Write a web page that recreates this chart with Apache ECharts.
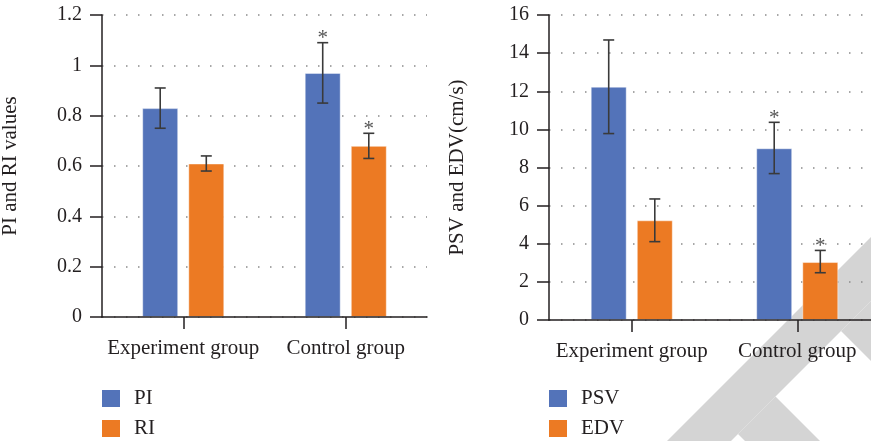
<!DOCTYPE html>
<html>
<head>
<meta charset="utf-8">
<script src="https://cdn.jsdelivr.net/npm/echarts@6/dist/echarts.min.js"></script>
<style>
html,body{margin:0;padding:0;background:#fff;}
#chart{width:871px;height:441px;}
</style>
</head>
<body>
<div id="chart"></div>
<script>
// ---- data ----
const categories = ['Experiment group', 'Control group'];
const piValues = [0.83, 0.97];
const piErrors = [[0.75, 0.91], [0.85, 1.09]];
const piStars = [0, 1];
const riValues = [0.61, 0.68];
const riErrors = [[0.58, 0.64], [0.63, 0.73]];
const riStars = [0, 1];
const psvValues = [12.24, 9.01];
const psvErrors = [[9.78, 14.69], [7.68, 10.37]];
const psvStars = [0, 1];
const edvValues = [5.23, 3.04];
const edvErrors = [[4.11, 6.35], [2.48, 3.65]];
const edvStars = [0, 1];
const leftAxisTitle = 'PI and RI values';
const rightAxisTitle = 'PSV and EDV(cm/s)';
const leftAxis = {min: 0, max: 1.2, interval: 0.2};
const rightAxis = {min: 0, max: 16, interval: 2};

// ---- styles ----
const FONT = "'Liberation Serif', 'DejaVu Serif', serif";
const INK = '#231f20';
const BLUE = '#5373b9';
const ORANGE = '#ec7a23';
const BAR_W = 36;
const BAR_GAP = 0.28;
const OFFSET = BAR_W * (1 + BAR_GAP) / 2;

function errData(errs, stars) {
  return errs.map((e, i) => [i, e[0], e[1], stars[i]]);
}

function errorRender(offset) {
  return function (params, api) {
    const cat = api.value(0);
    const lo = api.coord([cat, api.value(1)]);
    const hi = api.coord([cat, api.value(2)]);
    const x = lo[0] + offset;
    const cap = 5.5;
    const st = {stroke: '#3a3a3a', lineWidth: 1.6};
    const children = [
      {type: 'line', shape: {x1: x, y1: lo[1], x2: x, y2: hi[1]}, style: st},
      {type: 'line', shape: {x1: x - cap, y1: hi[1], x2: x + cap, y2: hi[1]}, style: st},
      {type: 'line', shape: {x1: x - cap, y1: lo[1], x2: x + cap, y2: lo[1]}, style: st}
    ];
    if (api.value(3)) {
      children.push({type: 'text', style: {text: '*', x: x, y: hi[1] - 4, align: 'center', verticalAlign: 'middle',
        fill: '#555', fontSize: 21, fontFamily: FONT}});
    }
    return {type: 'group', children: children};
  };
}

function yAxisCfg(idx, range, title) {
  return {
    type: 'value', gridIndex: idx, min: range.min, max: range.max, interval: range.interval,
    name: title, nameLocation: 'middle', nameGap: 81,
    nameTextStyle: {fontFamily: FONT, fontSize: 21, color: INK},
    axisLine: {show: true, lineStyle: {color: INK, width: 1.5}},
    axisTick: {show: true, length: 12, lineStyle: {color: INK, width: 1.5}},
    axisLabel: {margin: 20, fontFamily: FONT, fontSize: 20, color: INK},
    splitLine: {show: true, lineStyle: {color: '#8a8a8a', width: 1.5, type: [1.5, 10.5]}}
  };
}

function xAxisCfg(idx) {
  return {
    type: 'category', gridIndex: idx, data: categories, z: 3,
    axisLine: {show: true, lineStyle: {color: INK, width: 1.5}},
    axisTick: {show: true, alignWithLabel: true, length: 12, lineStyle: {color: INK, width: 1.5}},
    axisLabel: {margin: 21, interval: 0, fontFamily: FONT, fontSize: 21, color: INK}
  };
}

function barSeries(name, values, color, axisIdx) {
  return {
    name: name, type: 'bar', xAxisIndex: axisIdx, yAxisIndex: axisIdx, data: values,
    barWidth: BAR_W, barGap: (BAR_GAP * 100) + '%',
    itemStyle: {color: color, borderColor: 'rgba(255,255,255,0.45)', borderWidth: 1},
    z: 2
  };
}

function errSeries(name, errs, stars, axisIdx, offset) {
  return {
    name: name, type: 'custom', xAxisIndex: axisIdx, yAxisIndex: axisIdx,
    data: errData(errs, stars), renderItem: errorRender(offset), z: 5,
    encode: {x: 0, y: [1, 2]}
  };
}

function legendCfg(left, top, name) {
  return {
    data: [name], left: left, top: top, orient: 'vertical', icon: 'rect', padding: 0,
    itemWidth: 18, itemHeight: 17, itemGap: 0,
    itemStyle: {borderWidth: 0},
    textStyle: {fontFamily: FONT, fontSize: 21, color: INK, lineHeight: 17, padding: [0, 0, 0, 9]}
  };
}

const chart = echarts.init(document.getElementById('chart'));
chart.setOption({
  backgroundColor: '#fff',
  animation: false,
  grid: [
    {left: 102, right: 444, top: 15, bottom: 124, outerBoundsMode: 'none'},
    {left: 549, right: -9, top: 15, bottom: 121, outerBoundsMode: 'none'}
  ],
  xAxis: [xAxisCfg(0), xAxisCfg(1)],
  yAxis: [yAxisCfg(0, leftAxis, leftAxisTitle), yAxisCfg(1, rightAxis, rightAxisTitle)],
  legend: [
    legendCfg(102, 388, 'PI'), legendCfg(102, 418, 'RI'),
    legendCfg(549, 388, 'PSV'), legendCfg(549, 418, 'EDV')
  ],
  graphic: [
    {type: 'polygon', z: -10, silent: true, shape: {points: [[667, 441], [731, 441], [871, 301], [871, 237]]}, style: {fill: '#d4d4d4'}},
    {type: 'polygon', z: -10, silent: true, shape: {points: [[738, 434], [775.5, 396.5], [820, 441], [745, 441]]}, style: {fill: '#d4d4d4'}},
    {type: 'polygon', z: -10, silent: true, shape: {points: [[841, 331], [890, 282], [890, 380]]}, style: {fill: '#d4d4d4'}}
  ],
  series: [
    barSeries('PI', piValues, BLUE, 0),
    barSeries('RI', riValues, ORANGE, 0),
    errSeries('PI error', piErrors, piStars, 0, -OFFSET),
    errSeries('RI error', riErrors, riStars, 0, OFFSET),
    barSeries('PSV', psvValues, BLUE, 1),
    barSeries('EDV', edvValues, ORANGE, 1),
    errSeries('PSV error', psvErrors, psvStars, 1, -OFFSET),
    errSeries('EDV error', edvErrors, edvStars, 1, OFFSET)
  ]
});
</script>
</body>
</html>
